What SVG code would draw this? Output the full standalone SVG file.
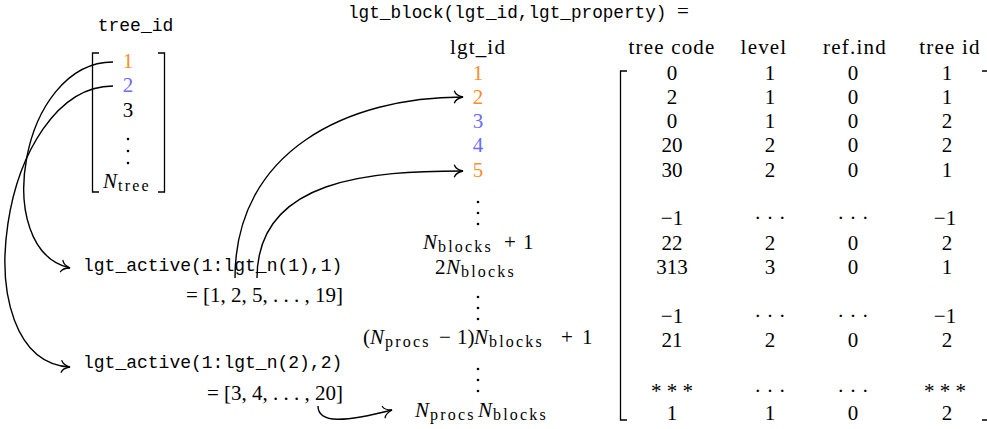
<svg xmlns="http://www.w3.org/2000/svg" width="987" height="429" viewBox="0 0 987 429">
<defs>
<style>
.tt{font-family:"Liberation Mono",monospace;font-size:18px;fill:#000}
.ttl{font-size:17.7px}
.rm{font-family:"Liberation Serif","Times New Roman",serif;font-size:21px;fill:#000}
.hd{letter-spacing:1.2px}
.it{font-style:italic}
.sub{font-size:16px;letter-spacing:2.2px}
.or{fill:#ff8d28}
.bl{fill:#6b6bff}
.br{fill:none;stroke:#000;stroke-width:1.3}
.dot{fill:#000}
#connectors path{fill:none;stroke:#000;stroke-width:1.4;marker-end:url(#arr)}
</style>
<marker id="arr" markerUnits="userSpaceOnUse" markerWidth="12" markerHeight="14" refX="0" refY="0" orient="auto" overflow="visible">
<path d="M-8.5,-5.8 C-7.5,-2.6 -3.2,-0.8 0,0 C-3.2,0.8 -7.5,2.6 -8.5,5.8" fill="none" stroke="#000" stroke-width="1.3" stroke-linecap="round"/>
</marker>
</defs>
<rect width="987" height="429" fill="#fff"/>

<g id="tree-id-vector">
<text class="tt" x="135.5" y="31" text-anchor="middle">tree_id</text>
<path class="br" d="M99,53 H92.5 V192 H99"/>
<path class="br" d="M158,53 H164.5 V192 H158"/>
<text class="rm or" x="128" y="68" text-anchor="middle">1</text>
<text class="rm bl" x="128" y="92" text-anchor="middle">2</text>
<text class="rm" x="128" y="117" text-anchor="middle">3</text>
<circle class="dot" cx="128" cy="139" r="1.3"/>
<circle class="dot" cx="128" cy="151" r="1.3"/>
<circle class="dot" cx="128" cy="163" r="1.3"/>
<text class="rm"><tspan class="it" x="103" y="188">N</tspan><tspan class="sub" x="118" y="191">tree</tspan></text>
</g>

<g id="lgt-active-1">
<text class="tt" x="83" y="271">lgt_active(1:lgt_n(1),1)</text>
<text class="rm" x="343" y="302" text-anchor="end">= [1, 2, 5, . . . , 19]</text>
</g>

<g id="lgt-active-2">
<text class="tt" x="83" y="368">lgt_active(1:lgt_n(2),2)</text>
<text class="rm" x="343" y="400" text-anchor="end">= [3, 4, . . . , 20]</text>
</g>

<g id="lgt-block-title">
<text class="tt ttl" x="348" y="18">lgt_block(lgt_id,lgt_property)</text>
<text class="rm" x="677" y="18">=</text>
</g>

<g id="lgt-id-column">
<text class="rm hd" x="478" y="54" text-anchor="middle">lgt_id</text>
<text class="rm or" x="478" y="79.5" text-anchor="middle">1</text>
<text class="rm or" x="478" y="103.8" text-anchor="middle">2</text>
<text class="rm bl" x="478" y="128.1" text-anchor="middle">3</text>
<text class="rm bl" x="478" y="152.4" text-anchor="middle">4</text>
<text class="rm or" x="478" y="176.7" text-anchor="middle">5</text>
<circle class="dot" cx="478" cy="202" r="1.3"/>
<circle class="dot" cx="478" cy="213" r="1.3"/>
<circle class="dot" cx="478" cy="224" r="1.3"/>
<text class="rm"><tspan class="it" x="423" y="248.5">N</tspan><tspan class="sub" x="438" y="251.5">blocks</tspan><tspan x="504" y="248.5">+</tspan><tspan x="523" y="248.5">1</tspan></text>
<text class="rm"><tspan x="435" y="274">2</tspan><tspan class="it" x="446" y="274">N</tspan><tspan class="sub" x="461" y="277">blocks</tspan></text>
<circle class="dot" cx="478" cy="297" r="1.3"/>
<circle class="dot" cx="478" cy="308" r="1.3"/>
<circle class="dot" cx="478" cy="319" r="1.3"/>
<text class="rm"><tspan x="363" y="344">(</tspan><tspan class="it" x="370" y="344">N</tspan><tspan class="sub" x="385" y="347">procs</tspan><tspan x="439" y="344">−</tspan><tspan x="457" y="344">1)</tspan><tspan class="it" x="474" y="344">N</tspan><tspan class="sub" x="489" y="347">blocks</tspan><tspan x="561" y="344">+</tspan><tspan x="582" y="344">1</tspan></text>
<circle class="dot" cx="478" cy="369" r="1.3"/>
<circle class="dot" cx="478" cy="380" r="1.3"/>
<circle class="dot" cx="478" cy="391" r="1.3"/>
<text class="rm"><tspan class="it" x="415" y="417">N</tspan><tspan class="sub" x="430" y="420">procs</tspan><tspan class="it" x="478" y="417">N</tspan><tspan class="sub" x="493" y="420">blocks</tspan></text>
</g>

<g id="lgt-block-matrix">
<text class="rm hd" y="54" text-anchor="middle"><tspan x="672">tree code</tspan><tspan x="764">level</tspan><tspan x="855">ref.ind</tspan><tspan x="950">tree id</tspan></text>
<path class="br" d="M627,71 H620.5 V420 H627"/>
<path class="br" d="M982,71 H988 V420 H982"/>
<text class="rm" y="79.5" text-anchor="middle"><tspan x="672">0</tspan><tspan x="770">1</tspan><tspan x="853">0</tspan><tspan x="947">1</tspan></text>
<text class="rm" y="103.8" text-anchor="middle"><tspan x="672">2</tspan><tspan x="770">1</tspan><tspan x="853">0</tspan><tspan x="947">1</tspan></text>
<text class="rm" y="128.1" text-anchor="middle"><tspan x="672">0</tspan><tspan x="770">1</tspan><tspan x="853">0</tspan><tspan x="947">2</tspan></text>
<text class="rm" y="152.4" text-anchor="middle"><tspan x="672">20</tspan><tspan x="770">2</tspan><tspan x="853">0</tspan><tspan x="947">2</tspan></text>
<text class="rm" y="176.7" text-anchor="middle"><tspan x="672">30</tspan><tspan x="770">2</tspan><tspan x="853">0</tspan><tspan x="947">1</tspan></text>
<text class="rm" y="225.3" text-anchor="middle"><tspan x="672">−1</tspan><tspan x="770">· · ·</tspan><tspan x="853">· · ·</tspan><tspan x="945">−1</tspan></text>
<text class="rm" y="249.6" text-anchor="middle"><tspan x="672">22</tspan><tspan x="770">2</tspan><tspan x="853">0</tspan><tspan x="947">2</tspan></text>
<text class="rm" y="273.9" text-anchor="middle"><tspan x="672">313</tspan><tspan x="770">3</tspan><tspan x="853">0</tspan><tspan x="947">1</tspan></text>
<text class="rm" y="322.5" text-anchor="middle"><tspan x="672">−1</tspan><tspan x="770">· · ·</tspan><tspan x="853">· · ·</tspan><tspan x="945">−1</tspan></text>
<text class="rm" y="346.8" text-anchor="middle"><tspan x="672">21</tspan><tspan x="770">2</tspan><tspan x="853">0</tspan><tspan x="947">2</tspan></text>
<text class="rm" y="397.5" text-anchor="middle"><tspan x="672">* * *</tspan><tspan x="770">· · ·</tspan><tspan x="853">· · ·</tspan><tspan x="945">* * *</tspan></text>
<text class="rm" y="419.7" text-anchor="middle"><tspan x="672">1</tspan><tspan x="770">1</tspan><tspan x="853">0</tspan><tspan x="947">2</tspan></text>
</g>

<g id="connectors">
<path d="M113,62 C20,62 -10,250 70,268"/>
<path d="M113,86 C0,86 -40,360 70,367"/>
<path d="M235,278 C235,150 349,97 463,97"/>
<path d="M257,278 C257,178 372,171 463,171"/>
<path d="M318,406 C318,424 345,422 392,410"/>
</g>
</svg>
